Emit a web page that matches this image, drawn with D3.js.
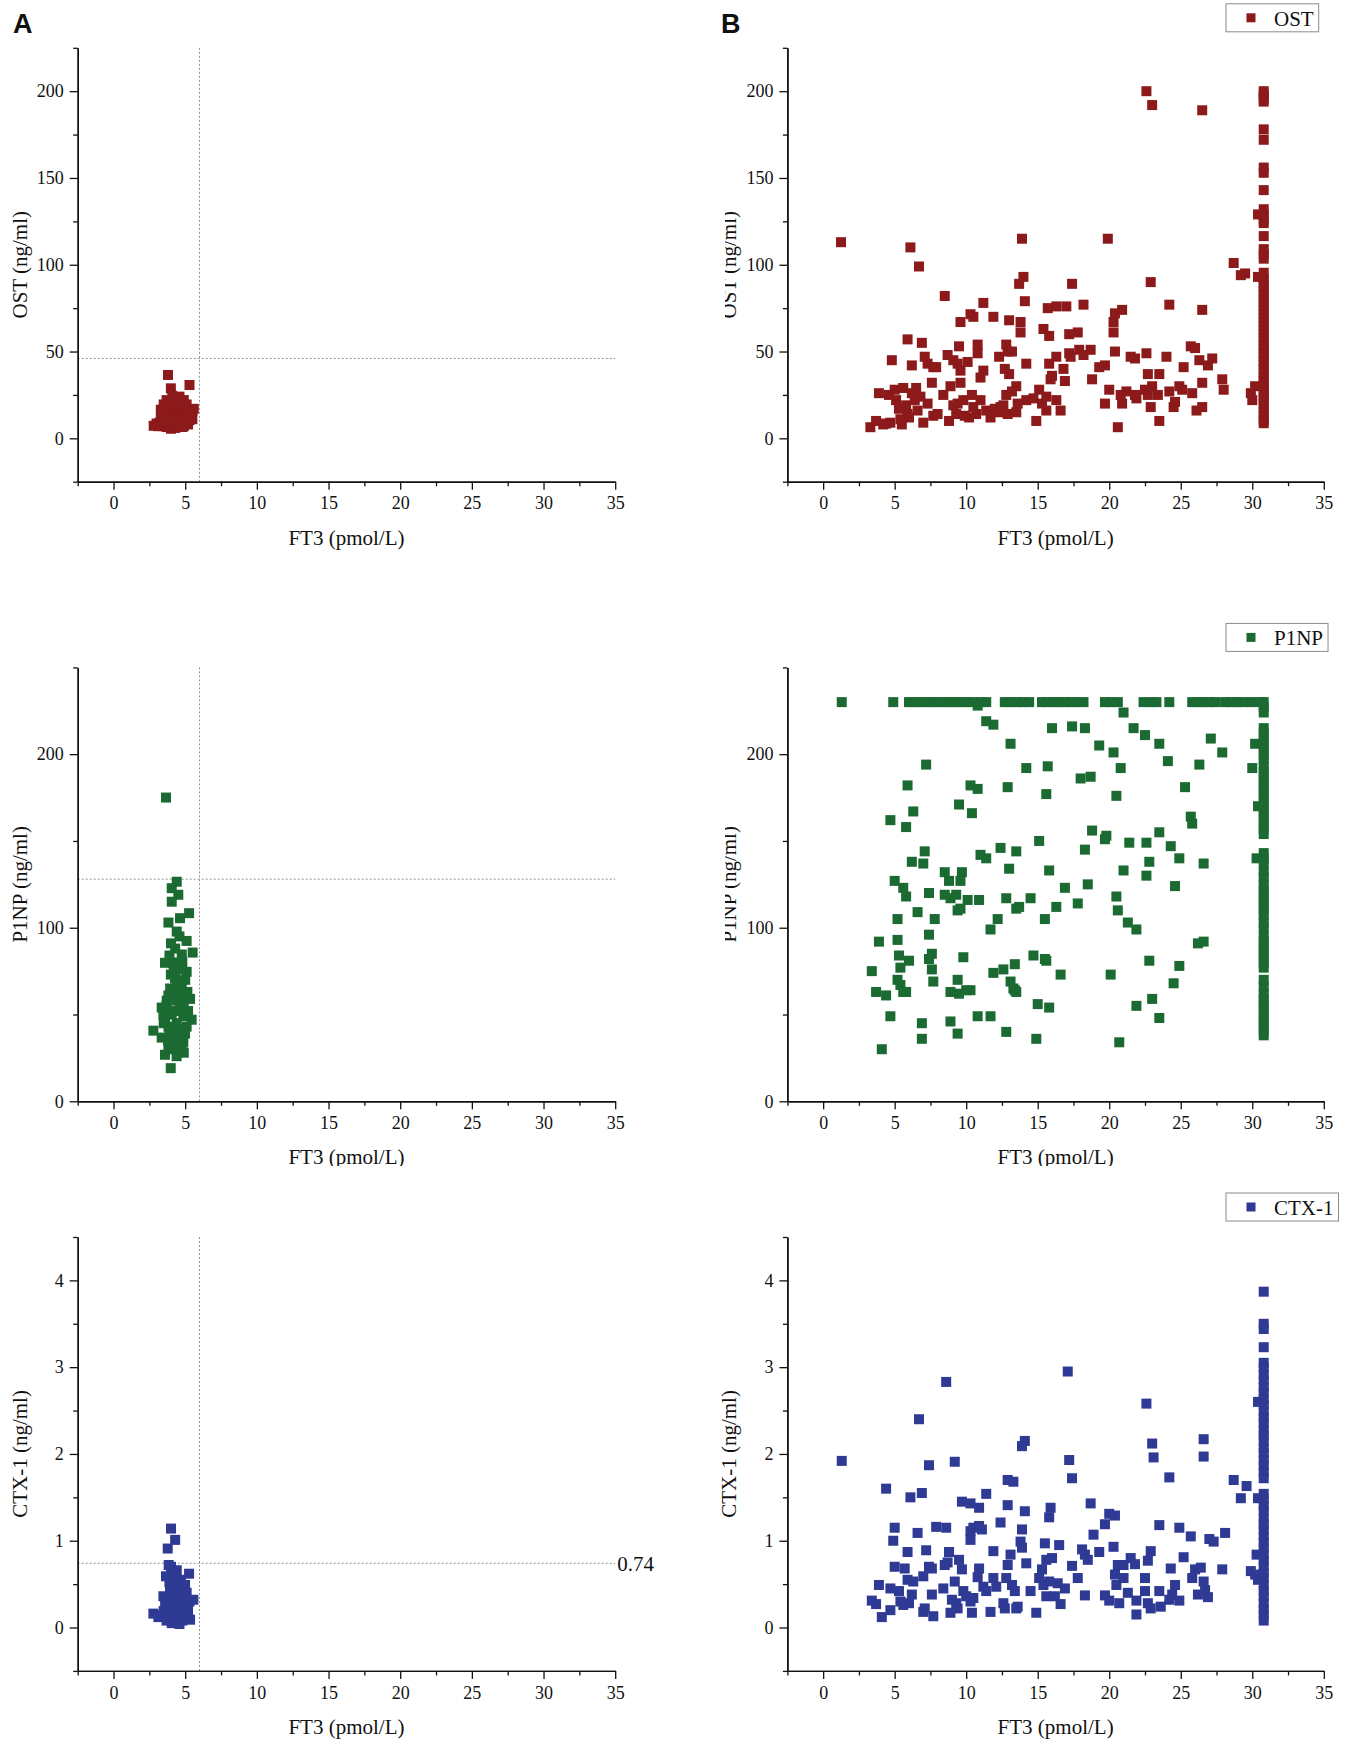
<!DOCTYPE html>
<html>
<head>
<meta charset="utf-8">
<script src="https://cdn.jsdelivr.net/npm/d3@7"></script>
<style>
  body { margin: 0; background: #fff; }
  text { font-family: "Liberation Serif", "Times New Roman", serif; fill: #111; }
</style>
</head>
<body>
<div id="chart"></div>
<script>
// FT3 cut-offs and assay caps
var ft3Ref = 6, ft3Cap = 30.8, p1npCap = 230;

var xTicks = [0, 5, 10, 15, 20, 25, 30, 35];
var xMinor = [-2.5, 2.5, 7.5, 12.5, 17.5, 22.5, 27.5, 32.5];

// OST, normal FT3 group [FT3, OST]
var ostNormal = [[3.8,36.5],[4.0,28.8],[5.3,30.7],[2.8,7.2],[3.0,8.5],[3.2,9.0],[3.3,11.5],[3.3,16.5],[3.4,7.0],[3.5,13.0],
  [3.5,19.5],[3.6,9.5],[3.6,15.0],[3.7,22.0],[3.7,6.5],[3.8,11.0],[3.8,17.5],[3.9,8.0],[3.9,13.5],[3.9,20.5],[4.0,5.5],
  [4.0,10.0],[4.0,15.5],[4.1,7.5],[4.1,12.5],[4.1,18.5],[4.2,9.0],[4.2,14.0],[4.2,21.0],[4.3,6.0],[4.3,11.0],[4.3,16.5],
  [4.4,8.5],[4.4,13.0],[4.4,19.0],[4.5,6.5],[4.5,10.5],[4.5,15.0],[4.5,22.5],[4.6,12.0],[4.6,17.5],[4.7,8.0],[4.7,14.0],
  [4.7,20.0],[4.8,10.5],[4.8,16.0],[4.9,7.0],[4.9,12.5],[4.9,18.5],[5.0,9.5],[5.0,14.5],[5.1,11.0],[5.1,17.0],[5.2,8.0],
  [5.2,13.5],[5.3,10.5],[5.3,16.0],[5.4,12.5],[5.5,15.5],[5.6,17.0],[5.5,11.0],[4.6,24.0],[4.4,23.0],[3.8,21.0],[4.1,24.5],
  [4.9,22.0],[5.1,19.5],[3.4,10.0],[3.1,7.0],[3.6,12.0],[4.0,18.0],[4.6,9.5],[4.8,6.5],[5.0,16.0],[4.2,11.5],[3.7,14.5]];

// OST, high FT3 group
var ostHigh = [[1.25,113],[6.1,110],[6.7,99],[13.9,115],[19.9,115],[22.6,200],[23.0,192],[26.5,189],[28.7,101],[29.2,94],
  [29.5,95],[30.4,93],[30.4,129],[8.5,82],[11.2,78],[11.9,70],[10.3,71.5],[10.5,70],[9.6,67],[13.0,68],[13.8,67],[13.7,89],
  [14.0,93],[14.1,79],[13.8,61],[17.4,89],[18.2,77],[15.7,75],[16.3,76],[17.0,76],[20.3,67],[20.4,72],[20.9,74],[24.2,77],
  [26.5,74],[22.9,90],[5.9,57],[6.2,42],[6.9,55],[4.8,45],[7.1,47],[7.3,43],[7.9,41],[7.7,41],[8.7,48],[9.1,45],[9.5,53],
  [9.4,43],[9.6,39],[10.1,44],[10.8,54],[10.8,49],[11.2,39],[11.0,35],[12.3,47],[12.8,54],[12.9,50],[13.2,50],[12.7,40],
  [13.0,37],[14.2,43],[15.4,63],[15.8,59],[15.8,43],[16.3,47],[17.2,49],[17.3,47],[17.8,61],[17.2,60],[17.9,51],[18.2,48],
  [18.7,51],[19.3,41],[19.7,42],[18.8,34],[20.3,61],[20.4,50],[21.5,47],[21.8,46],[22.6,49],[22.7,37],[23.5,37],[24.0,47],
  [25.2,41],[25.7,53],[26.0,52],[26.3,45],[26.5,32],[26.9,42],[27.2,46],[27.9,34],[28.0,28],[29.9,26],[30.2,30],
  [3.3,6.4],[3.7,10],[3.9,26],[4.2,8],[4.6,25],[4.7,9],[5.0,28],[5.1,22],[5.3,17],[5.4,11],[5.5,8],[5.6,29],[5.8,19],
  [5.9,14],[6.2,26],[6.4,22],[6.5,29],[6.8,24],[7.0,9],[7.3,20],[7.6,32],[7.7,13],[8.4,25],[8.8,10],[8.9,30],[9.1,19],
  [9.3,14],[9.6,32],[9.8,22],[9.9,13],[10.4,25],[10.5,18],[10.7,14],[11.0,22],[11.7,12],[12.0,17],[12.3,15],[12.6,19],
  [12.8,25],[12.9,14],[13.2,27],[13.5,30],[13.6,20],[13.5,15],[14.7,23],[14.9,10],[15.1,28],[15.3,20],[15.6,16],[15.6,24],
  [15.9,34],[16.0,36],[16.3,22],[16.6,16],[16.8,40],[16.9,33],[19.7,20],[20.0,28],[20.6,6.4],[20.8,25],[20.9,20],[21.2,27],
  [21.8,25],[21.9,23],[22.5,28],[22.7,25],[22.9,18],[23.0,30],[23.4,25],[23.5,10],[24.2,27],[24.5,18],[24.6,21],[24.9,30],
  [25.1,28],[25.8,26],[26.1,16],[26.5,18],[30.0,22],[4.4,8.5],[6.0,12],[6.6,16],[8.0,14],[11.4,16],[12.4,18],[14.2,22],
  [10.2,12],[9.4,20]];
// OST at FT3 cap
var ostAtCap = [8.7,10.5,12.5,15,17.5,20,22.5,24,26.5,28.5,31,33,35.5,37.5,40,42.5,44.5,47,49,51.5,53.5,56,58,60.5,62.5,
  65,67,69.5,71.5,74,76,78.5,80.5,83,85,87.5,89.5,92,95.4,103.5,106,109,116.5,124,126,129,132,143,153,156,172,178,194,
  196,198,200];

// P1NP, normal FT3 group
var p1npNormal = [[3.66,175],[4.41,126.5],[4.06,122.8],[4.52,119],[4.06,115],[5.27,108.4],[4.64,105.5],[3.83,103],[4.41,97.8],
  [5.1,92.4],[4.01,91],[5.52,85.7],[4.76,84.6],[3.59,79.8],[5.1,74.6],[4.29,70.8],[5.15,63],[3.83,61],[3.36,54],[5.34,59],
  [4.41,58],[5.45,47],[2.78,40.7],[3.36,36.7],[4.99,39],[3.83,31.6],[3.59,26.8],[3.99,19.1],[4.18,80],[4.64,76],[4.41,69],
  [3.95,65],[4.76,67],[4.18,61],[3.71,58],[4.64,54],[4.06,50],[3.48,50],[4.87,49],[4.41,45],[3.83,43],[4.64,41],[4.18,37],
  [4.87,34],[4.41,32],[4.06,30],[4.76,31],[3.6,46],[5.1,43],[4.9,57],[4.3,88],[4.6,95],[3.9,84],[5.0,70],[4.0,73],[4.5,64],
  [3.7,55],[4.3,52],[5.2,52],[3.5,45],[4.2,42],[4.5,36],[3.9,39],[4.9,28],[4.4,26],[3.8,35],[4.7,60],[4.2,77],[4.8,80]];

// P1NP, high FT3 group
var p1npHigh = [[10.8,228],[21.0,224],[11.4,219],[11.9,217],[16.0,215],[17.4,216],[18.3,215],[21.7,215],[22.5,211],[23.5,206],
  [27.1,209],[13.1,206],[19.3,205],[20.3,201],[27.9,201],[30.2,206],[30.0,192],[7.2,194],[14.2,192],[15.7,193],[20.8,192],
  [24.1,196],[26.3,194],[18.0,186],[18.7,187],[5.9,182],[10.3,182],[10.8,180],[12.9,181],[25.3,181],[15.6,177],[20.5,176],
  [9.5,171],[10.4,166],[6.3,167],[4.7,162],[5.8,158],[25.7,164],[25.8,160],[18.8,156],[19.7,151],[19.8,153],[23.5,155],
  [15.1,150],[21.4,149],[22.6,149],[24.3,147],[7.1,144],[7.0,137],[6.2,138],[12.4,146],[13.5,144],[18.3,145],[11.0,142],
  [11.4,140],[24.9,140],[22.8,138],[26.6,137],[30.3,140],[30.4,170],[13.0,134],[15.8,133],[21.0,133],[8.5,132],[8.8,127],
  [9.7,132],[9.6,127],[5.0,127],[22.6,130],[18.5,125],[16.9,123],[24.6,124],[5.6,123],[5.8,118],[7.4,120],[8.5,119],
  [8.9,117],[9.3,119],[10.1,116],[10.9,116],[12.8,117],[14.5,117],[20.5,118],[17.8,114],[9.4,110],[9.6,111],[6.6,109],
  [13.5,111],[13.7,112],[16.3,112],[20.6,110],[5.2,105],[7.8,105],[12.2,105],[15.5,105],[21.3,103],[21.9,99],[11.7,99],
  [7.4,96],[3.9,92],[5.2,93],[26.2,91],[26.6,92],[5.3,84],[7.6,85],[7.4,82],[9.8,83],[14.7,84],[15.5,82],[15.6,81],
  [22.8,81],[6.0,81],[13.4,79],[24.9,78],[3.4,75],[5.4,77],[7.6,76],[12.6,76],[11.9,74],[16.6,73],[20.1,73],[5.2,70],
  [5.4,67],[5.6,63],[5.8,63],[7.7,69],[9.4,70],[13.1,69],[13.3,65],[13.5,63],[13.4,64],[24.5,68],[3.7,63],[4.4,61],
  [8.9,63],[9.5,62],[10.0,64],[10.3,64],[15.0,56],[15.8,54],[23.0,59],[21.9,55],[4.7,49],[8.9,46],[10.8,49],[11.7,49],
  [23.5,48],[6.9,45],[9.4,39],[12.8,40],[6.9,36],[14.9,36],[20.7,34],[4.1,30]];
// FT3 of samples at the P1NP cap
var p1npCapFT3 = [1.3,4.9,6.0,6.4,6.8,7.2,7.6,8.0,8.4,8.8,9.2,9.6,10.0,10.4,11.0,11.4,12.7,13.1,13.5,13.9,14.4,15.3,15.7,
  16.1,16.5,16.9,17.3,17.7,18.2,19.7,20.1,20.6,22.4,22.9,23.3,24.2,25.8,26.2,26.6,27.0,27.4,28.1,28.5,28.9,29.3,29.9,30.5];
// P1NP at FT3 cap
var p1npAtCap = [230,227,224,215,212,209,206,203,200,197,193,190,187,184,181,178,175,172,169,166,163,160,157,154,143,140,137,
  132,129,125,122,119,116,113,110,107,103,100,95,92,89,86,83,80,77,70,66,62,59,56,53,50,47,44,41,38];

// CTX-1, normal FT3 group
var ctxNormal = [[4.01,1.14],[4.30,1.01],[3.78,0.91],[4.01,0.70],[4.41,0.66],[5.27,0.62],[3.66,0.59],[4.18,0.55],[4.99,0.49],
  [3.94,0.43],[3.48,0.36],[5.57,0.32],[2.78,0.16],[3.13,0.12],[4.06,0.05],[5.34,0.09],[3.6,0.25],[3.8,0.15],[3.9,0.32],
  [4.0,0.22],[4.1,0.40],[4.2,0.10],[4.2,0.28],[4.3,0.18],[4.4,0.35],[4.4,0.06],[4.5,0.24],[4.6,0.13],[4.6,0.42],[4.7,0.30],
  [4.8,0.20],[4.8,0.08],[4.9,0.36],[5.0,0.15],[5.0,0.26],[5.1,0.40],[5.2,0.20],[3.7,0.08],[3.5,0.19],[3.3,0.14],[4.5,0.50],
  [4.3,0.46],[4.7,0.55],[3.9,0.52],[4.1,0.62],[4.6,0.04],[5.3,0.30],[3.85,0.72]];

// CTX-1, high FT3 group
var ctxHigh = [[1.3,1.92],[8.6,2.83],[6.7,2.40],[17.1,2.95],[22.6,2.58],[23.0,2.12],[23.1,1.96],[26.6,2.17],[26.6,1.97],
  [13.9,2.09],[14.1,2.15],[17.2,1.93],[17.4,1.72],[9.2,1.91],[7.4,1.87],[24.2,1.73],[28.7,1.70],[29.6,1.63],[29.2,1.49],
  [30.4,1.49],[4.4,1.60],[12.9,1.70],[13.3,1.68],[6.9,1.55],[6.1,1.50],[11.4,1.54],[9.7,1.45],[10.3,1.43],[10.9,1.38],
  [12.9,1.41],[14.1,1.34],[15.9,1.38],[15.8,1.27],[18.7,1.43],[20.0,1.31],[20.4,1.29],[19.7,1.19],[5.0,1.15],[4.9,1.00],
  [6.6,1.09],[7.9,1.16],[8.6,1.15],[10.3,1.11],[10.5,1.15],[10.9,1.17],[11.1,1.13],[10.3,1.01],[12.4,1.21],[13.9,1.13],
  [23.5,1.18],[24.9,1.15],[25.7,1.05],[27.0,1.02],[27.3,0.99],[28.1,1.09],[18.9,1.07],[13.8,0.99],[13.9,0.92],[15.5,0.97],
  [16.5,0.95],[18.1,0.90],[18.3,0.84],[18.5,0.78],[19.3,0.87],[20.3,0.93],[22.9,0.88],[22.7,0.77],[25.2,0.81],[30.3,0.84],
  [5.9,0.87],[7.2,0.89],[8.8,0.87],[11.9,0.88],[30.4,2.60],
  [3.4,0.31],[3.7,0.27],[3.9,0.49],[4.1,0.12],[4.7,0.45],[4.7,0.20],[5.0,0.70],[5.3,0.42],[5.4,0.30],[5.6,0.26],[5.7,0.68],
  [5.9,0.55],[6.0,0.28],[6.2,0.38],[6.3,0.53],[7.0,0.59],[7.0,0.18],[7.1,0.22],[7.4,0.70],[7.6,0.68],[7.6,0.38],[7.7,0.13],
  [8.4,0.45],[8.5,0.72],[8.7,0.75],[8.9,0.17],[9.0,0.32],[9.2,0.53],[9.3,0.28],[9.4,0.22],[9.5,0.78],[9.7,0.67],[9.8,0.42],
  [10.0,0.36],[10.3,0.30],[10.4,0.17],[10.5,0.34],[10.8,0.58],[10.9,0.68],[11.2,0.47],[11.4,0.42],[11.7,0.18],[11.9,0.57],
  [12.1,0.47],[12.6,0.28],[12.7,0.22],[12.8,0.57],[12.9,0.72],[13.1,0.84],[13.2,0.49],[13.4,0.42],[13.5,0.22],[13.6,0.24],
  [14.2,0.74],[14.5,0.42],[14.9,0.17],[15.1,0.57],[15.3,0.67],[15.4,0.49],[15.6,0.36],[15.6,0.78],[15.8,0.53],[16.0,0.80],
  [16.2,0.36],[16.4,0.51],[16.6,0.27],[16.9,0.45],[17.4,0.71],[17.8,0.57],[18.3,0.37],[19.7,0.37],[20.0,0.31],[20.4,0.61],
  [20.5,0.49],[20.6,0.72],[20.7,0.28],[21.0,0.57],[21.0,0.72],[21.3,0.40],[21.5,0.80],[21.8,0.73],[21.9,0.31],[21.9,0.15],
  [22.5,0.57],[22.5,0.42],[22.7,0.28],[22.9,0.22],[23.5,0.42],[23.6,0.24],[24.2,0.32],[24.3,0.68],[24.4,0.38],[24.6,0.49],
  [24.9,0.31],[25.8,0.57],[26.0,0.67],[26.2,0.38],[26.4,0.69],[26.6,0.53],[26.7,0.43],[26.9,0.35],[27.9,0.67],[29.9,0.65],
  [30.2,0.61],[30.4,0.55]];
// CTX-1 at FT3 cap
var ctxAtCap = [3.87,3.50,3.44,3.23,3.05,2.99,2.91,2.85,2.77,2.71,2.63,2.57,2.49,2.42,2.36,2.28,2.21,2.15,2.07,2.01,1.93,
  1.87,1.79,1.72,1.54,1.48,1.40,1.34,1.26,1.19,1.13,1.05,0.98,0.92,0.84,0.77,0.71,0.63,0.57,0.49,0.42,0.36,0.28,0.21,
  0.15,0.08];

var rows = [
  { name: "OST", yLabel: "OST (ng/ml)", domain: [-25, 225], major: [0, 50, 100, 150, 200],
    minor: [-25, 25, 75, 125, 175, 225], ref: 46, color: "#8c1a1a",
    normal: ostNormal, high: ostHigh.concat(ostAtCap.map(function (v) { return [ft3Cap, v]; })) },
  { name: "P1NP", yLabel: "P1NP (ng/ml)", domain: [0, 250], major: [0, 100, 200],
    minor: [50, 150, 250], ref: 128, color: "#1b6a32",
    normal: p1npNormal,
    high: p1npCapFT3.map(function (v) { return [v, p1npCap]; }).concat(p1npHigh)
      .concat(p1npAtCap.map(function (v) { return [ft3Cap, v]; })) },
  { name: "CTX-1", yLabel: "CTX-1 (ng/ml)", domain: [-0.5, 4.5], major: [0, 1, 2, 3, 4],
    minor: [-0.5, 0.5, 1.5, 2.5, 3.5, 4.5], ref: 0.74, refLabel: "0.74", color: "#2e3a93",
    normal: ctxNormal, high: ctxHigh.concat(ctxAtCap.map(function (v) { return [ft3Cap, v]; })) }
];

// layout
var W = 1346, H = 1742;
var colX = [[77.7, 615.2], [787.4, 1323.8]];
var rowTop = [47.8, 667.4, 1237.0];
var plotH = 433.9;
var mk = 10;

var svg = d3.select("#chart").append("svg")
    .attr("width", W)
    .attr("height", H);
svg.append("rect").attr("width", W).attr("height", H).attr("fill", "#fff");

var defs = svg.append("defs");
defs.append("clipPath").attr("id", "clipYTitle")
    .append("rect").attr("x", 725).attr("y", 0).attr("width", 60).attr("height", 1200);
defs.append("clipPath").attr("id", "clipXTitle")
    .append("rect").attr("x", 0).attr("y", 1100).attr("width", W).attr("height", 66);

// panel letters
svg.append("text").attr("x", 13).attr("y", 33).text("A")
    .style("font-family", "'Liberation Sans', Arial, sans-serif").style("font-weight", "bold").style("font-size", "27px");
svg.append("text").attr("x", 721).attr("y", 33).text("B")
    .style("font-family", "'Liberation Sans', Arial, sans-serif").style("font-weight", "bold").style("font-size", "27px");

function drawPanel(row, r, c) {
    var top = rowTop[r], bottom = top + plotH;
    var x = d3.scaleLinear().domain([-2.5, 35]).range(colX[c]);
    var y = d3.scaleLinear().domain(row.domain).range([bottom, top]);
    var g = svg.append("g");

    // reference lines (normal group only)
    if (c === 0) {
        g.append("line")
            .attr("x1", x(ft3Ref)).attr("x2", x(ft3Ref))
            .attr("y1", top).attr("y2", bottom)
            .attr("stroke", "#8f8f8f").attr("stroke-width", 1).attr("stroke-dasharray", "2,2");
        g.append("line")
            .attr("x1", colX[c][0]).attr("x2", x(35))
            .attr("y1", y(row.ref)).attr("y2", y(row.ref))
            .attr("stroke", "#8f8f8f").attr("stroke-width", 1).attr("stroke-dasharray", "2,2");
        if (row.refLabel) {
            g.append("text")
                .attr("x", x(35) + 2).attr("y", y(row.ref))
                .attr("dy", "0.35em")
                .style("font-size", "21px")
                .text(row.refLabel);
        }
    }

    // points
    var pts = c === 0 ? row.normal : row.high;
    g.selectAll(".pt")
        .data(pts)
        .enter().append("rect")
        .attr("class", "pt")
        .attr("x", function (d) { return x(d[0]) - mk / 2; })
        .attr("y", function (d) { return y(d[1]) - mk / 2; })
        .attr("width", mk)
        .attr("height", mk)
        .attr("fill", row.color);

    // axes
    g.append("g").attr("transform", "translate(0," + bottom + ")")
        .call(d3.axisBottom(x).tickValues(xTicks).tickSize(8).tickSizeOuter(0).tickPadding(7)
            .tickFormat(d3.format("d")));
    g.append("g").attr("transform", "translate(0," + bottom + ")")
        .call(d3.axisBottom(x).tickValues(xMinor).tickSize(4.5).tickSizeOuter(0).tickFormat(""));
    g.append("g").attr("transform", "translate(" + colX[c][0] + ",0)")
        .call(d3.axisLeft(y).tickValues(row.major).tickSize(8).tickSizeOuter(0).tickPadding(6)
            .tickFormat(d3.format("d")));
    g.append("g").attr("transform", "translate(" + colX[c][0] + ",0)")
        .call(d3.axisLeft(y).tickValues(row.minor).tickSize(4.5).tickSizeOuter(0).tickFormat(""));

    g.selectAll("g").attr("font-family", null);
    g.selectAll(".domain").attr("stroke", "#111").attr("stroke-width", 1.4);
    g.selectAll(".tick line").attr("stroke", "#111").attr("stroke-width", 1.3);
    g.selectAll(".tick text")
        .style("font-family", "'Liberation Serif', 'Times New Roman', serif")
        .style("font-size", "18px").attr("fill", "#111");

    // axis titles
    var xt = g.append("text")
        .attr("x", (colX[c][0] + colX[c][1]) / 2)
        .attr("y", bottom + 63)
        .attr("text-anchor", "middle")
        .style("font-size", "21px")
        .text("FT3 (pmol/L)");
    if (r === 1) xt.attr("clip-path", "url(#clipXTitle)");

    var titleX = colX[c][0] - 51;
    var yt = g.append("g");
    yt.append("text")
        .attr("transform", "translate(" + titleX + "," + ((top + bottom) / 2) + ") rotate(-90)")
        .attr("text-anchor", "middle")
        .style("font-size", "21px")
        .text(row.yLabel);
    if (c === 1 && r < 2) yt.attr("clip-path", "url(#clipYTitle)");

    // legend for the high group
    if (c === 1) {
        var ly = top - 44;
        var leg = svg.append("g");
        var lt = leg.append("text")
            .attr("x", 1274).attr("y", ly + 22)
            .style("font-size", "21px")
            .text(row.name);
        var tw = lt.node().getComputedTextLength();
        leg.insert("rect", "text")
            .attr("x", 1226).attr("y", ly)
            .attr("width", 1274 + tw + 5 - 1226).attr("height", 28)
            .attr("fill", "#fff").attr("stroke", "#8a8a8a").attr("stroke-width", 1);
        leg.append("rect")
            .attr("x", 1251 - 4.5).attr("y", ly + 14 - 4.5)
            .attr("width", 9).attr("height", 9)
            .attr("fill", row.color);
    }
}

rows.forEach(function (row, r) {
    drawPanel(row, r, 0);
    drawPanel(row, r, 1);
});
</script>
</body>
</html>
